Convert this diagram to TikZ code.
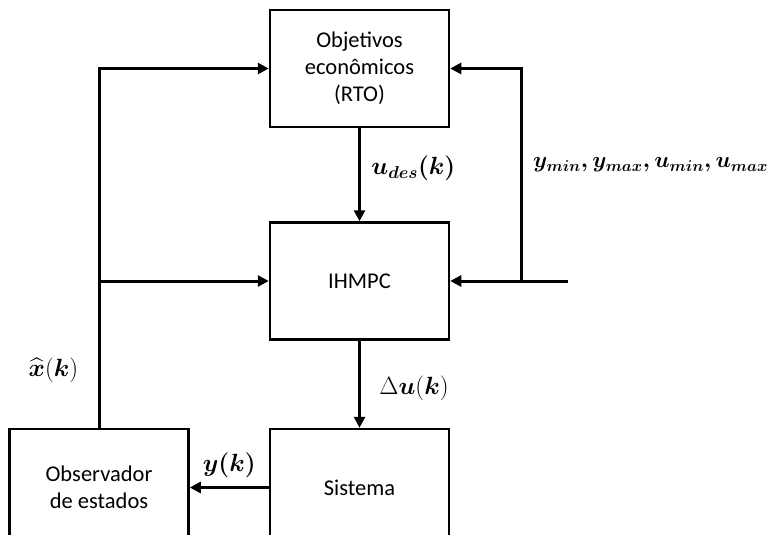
\documentclass[tikz,border=0pt]{standalone}
\usepackage{amsmath,amssymb}
\usepackage{fontspec}
\setmainfont{Carlito}
\usetikzlibrary{arrows.meta,positioning}

\begin{document}
\begin{tikzpicture}[
    x=1pt, y=-1pt,
    node distance=93pt,
    box/.style={draw, line width=2.5pt, align=center, minimum width=179pt, minimum height=117pt, font=\fontsize{22.5}{27}\selectfont},
    arr/.style={-{Triangle[length=11pt,width=11pt]}, line width=3pt},
    lbl/.style={font=\fontsize{24}{28}\selectfont}
]
\useasboundingbox (0,0) rectangle (771,535);
\node[box] (rto) at (359.5,68.5) {Objetivos\\econômicos\\(RTO)};
\node[box, below=of rto] (ihmpc) {IHMPC};
\node[box, below=87pt of ihmpc] (sistema) {Sistema};
\node[box, left=79pt of sistema] (observador) {Observador\\de estados};
\coordinate (entrada) at ([xshift=118pt]ihmpc.east);
\coordinate (ramo) at ([xshift=71pt]ihmpc.east);
% caminho direto
\draw[arr] (rto) -- node[lbl, right=7pt, pos=0.43] {$\boldsymbol{u_{des}(k)}$} (ihmpc);
\draw[arr] (ihmpc) -- node[lbl, right=15pt, pos=0.55] {$\Delta\boldsymbol{u}(\boldsymbol{k})$} (sistema);
\draw[arr] (sistema) -- node[lbl, above=5pt] {$\boldsymbol{y(k)}$} (observador);
% realimentacao do observador
\draw[arr] (observador.north) |- node[lbl, left=16pt, pos=0.08] {$\widehat{\boldsymbol{x}}(\boldsymbol{k})$} (rto.west);
\draw[arr] (observador.north |- ihmpc.west) -- (ihmpc.west);
% restricoes
\draw[arr] (entrada) -- (ihmpc.east);
\draw[arr] (ramo) |- (rto.east);
\node[lbl, font=\fontsize{22.5}{27}\selectfont, inner sep=0pt, scale=1.09, transform shape, anchor=west] (limites) at (533,165) {$\boldsymbol{y_{min}, y_{max}, u_{min}, u_{max}}$};
\end{tikzpicture}
\end{document}
